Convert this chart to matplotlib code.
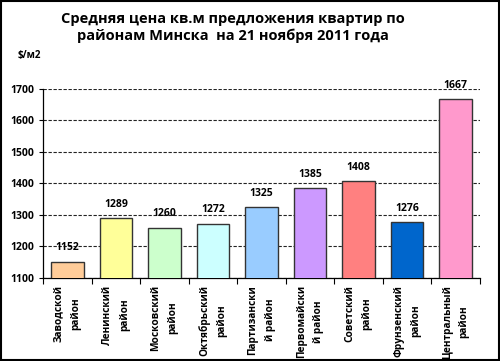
import matplotlib.pyplot as plt
from matplotlib.patches import Rectangle

# Data
districts = ['Заводской\nрайон', 'Ленинский\nрайон', 'Московский\nрайон',
             'Октябрьский\nрайон', 'Партизански\nй район', 'Первомайски\nй район',
             'Советский\nрайон', 'Фрунзенский\nрайон', 'Центральный\nрайон']
prices = [1152, 1289, 1260, 1272, 1325, 1385, 1408, 1276, 1667]
colors = ['#FFCC99', '#FFFF99', '#CCFFCC', '#CCFFFF', '#99CCFF',
          '#CC99FF', '#FF8080', '#0066CC', '#FF99CC']
yticks = [1100, 1200, 1300, 1400, 1500, 1600, 1700]

plt.rcParams['font.family'] = ['Open Sans', 'DejaVu Sans']

fig = plt.figure(figsize=(5, 3.61), dpi=100)
ax = fig.add_axes([0.086, 0.23, 0.874, 0.524])

x = list(range(len(districts)))
ax.bar(x, prices, width=0.67, bottom=0, color=colors, edgecolor='#333333', linewidth=1, zorder=3)
for xi, v in zip(x, prices):
    ax.annotate(str(v), (xi, v), xytext=(0, 6), textcoords='offset points',
                ha='center', va='bottom', fontsize=7.5, fontweight='bold', zorder=4)

ax.set_ylim(1100, 1700)
ax.set_xlim(-0.5, len(districts) - 0.5)
ax.set_yticks(yticks)
ax.set_yticklabels([str(t) for t in yticks], fontsize=7.5, fontweight='bold')
ax.yaxis.grid(True, linestyle=(0, (3, 1.5)), color='#222222', linewidth=0.8, zorder=0)
ax.tick_params(axis='y', length=3, width=0.8, pad=3)

ax.set_xticks(x)
ax.set_xticklabels(districts, rotation=90, fontsize=7.3, fontweight='bold',
                   va='top', ha='center', linespacing=1.75)
ax.set_xticks([i - 0.5 for i in range(len(districts) + 1)], minor=True)
ax.tick_params(axis='x', which='major', length=0, pad=5)
ax.tick_params(axis='x', which='minor', length=4, width=0.8)

for s in ['top', 'right']:
    ax.spines[s].set_visible(False)
ax.spines['left'].set_linewidth(0.9)
ax.spines['bottom'].set_linewidth(0.9)

fig.text(0.466, 0.968, 'Средняя цена кв.м предложения квартир по\nрайонам Минска  на 21 ноября 2011 года',
         ha='center', va='top', fontsize=10.5, fontweight='bold', linespacing=1.3)
fig.text(0.036, 0.845, '$/м2', ha='left', va='center', fontsize=7, fontweight='bold')

fig.patches.append(Rectangle((0.002, 0.003), 0.995, 0.993, transform=fig.transFigure,
                             fill=False, edgecolor='black', linewidth=1.5))

fig.savefig('out.png', dpi=100)
